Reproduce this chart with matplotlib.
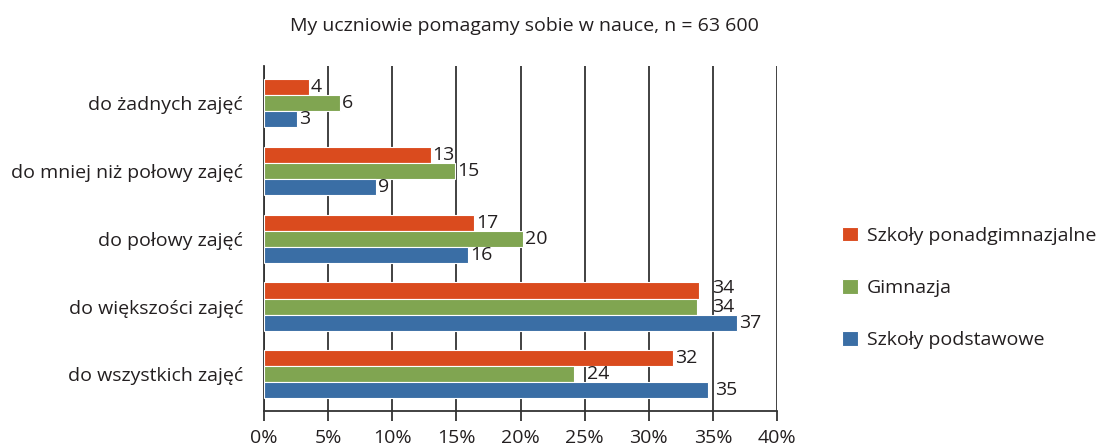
import matplotlib
matplotlib.use("Agg")
import matplotlib.pyplot as plt
import numpy as np

plt.rcParams['font.family'] = ['Open Sans', 'DejaVu Sans']

# categories, top to bottom
categories = ['do żadnych zajęć', 'do mniej niż połowy zajęć', 'do połowy zajęć',
              'do większości zajęć', 'do wszystkich zajęć']

# series values (percent)
ponadgim = [3.5, 13.0, 16.4, 33.9, 31.9]
gimnazja = [5.9, 14.9, 20.2, 33.8, 24.2]
podstawowe = [2.6, 8.7, 15.9, 36.9, 34.6]

# value labels as printed
lab_ponadgim = ['4', '13', '17', '34', '32']
lab_gim = ['6', '15', '20', '34', '24']
lab_podst = ['3', '9', '16', '37', '35']

series = ['Szkoły ponadgimnazjalne', 'Gimnazja', 'Szkoły podstawowe']
colors = ['#DA4B1E', '#80A551', '#3A6EA5']
txt = '#231F20'
grid_c = '#333333'

fig = plt.figure(figsize=(11.02, 4.47), dpi=100)
# plot area: x 264..777 px, y 66..411 px
ax = fig.add_axes([264 / 1102, 36 / 447, 513 / 1102, 345 / 447])

y = np.arange(len(categories))
h = 0.236
offs = [-h, 0, h]
data = [ponadgim, gimnazja, podstawowe]
labels = [lab_ponadgim, lab_gim, lab_podst]

for k in range(3):
    ax.barh(y + offs[k], data[k], height=h, color=colors[k], edgecolor='white',
            linewidth=0.8, label=series[k], zorder=3)

# nudges for overlapping labels (series, category) -> extra x in %
nudge = {(0, 3): 0.9, (1, 3): 1.0, (1, 4): 0.8, (2, 4): 0.4}
vshift = {(0, 3): -0.04}
for k in range(3):
    for i in range(len(categories)):
        dx = 0.15 + nudge.get((k, i), 0)
        ax.text(data[k][i] + dx, y[i] + offs[k] + vshift.get((k, i), 0), labels[k][i],
                va='center', ha='left', fontsize=14, color=txt, zorder=4)

ax.set_xlim(0, 40)
ax.set_ylim(4.54, -0.545)
ax.set_xticks(np.arange(0, 41, 5))
ax.set_xticklabels([f'{v}%' for v in range(0, 41, 5)], fontsize=14, color=txt)
ax.set_yticks(y)
ax.set_yticklabels(categories, fontsize=14, color=txt)
ax.tick_params(axis='y', length=0, pad=15)
ax.tick_params(axis='x', direction='out', length=7.2, width=1.3, color=grid_c, pad=6)

ax.grid(axis='x', color=grid_c, linewidth=1.3, zorder=0)
for s in ['top', 'right']:
    ax.spines[s].set_visible(False)
for s in ['left', 'bottom']:
    ax.spines[s].set_color(grid_c)
    ax.spines[s].set_linewidth(1.3)

fig.text(524 / 1102, 1 - 26 / 447, 'My uczniowie pomagamy sobie w nauce, n = 63 600',
         fontsize=14, color=txt, ha='center', va='center')

leg = fig.legend(loc='center left', bbox_to_anchor=(842 / 1102, 1 - 288 / 447),
                 frameon=False, fontsize=14, labelspacing=1.75, handlelength=0.82,
                 handleheight=0.78, handletextpad=0.45, borderpad=0, borderaxespad=0)
for t in leg.get_texts():
    t.set_color(txt)

fig.savefig('out.png', dpi=100)
